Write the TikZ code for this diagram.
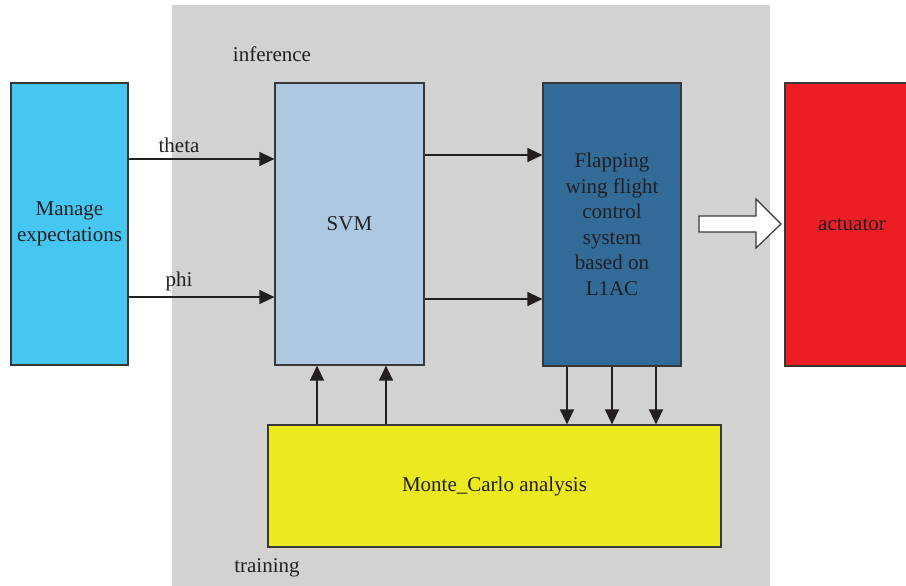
\documentclass[tikz,border=0pt]{standalone}
\usepackage{fontspec}
\setmainfont{Liberation Serif}
\usetikzlibrary{arrows.meta}
\definecolor{bggray}{RGB}{210,210,209}
\definecolor{mngcol}{RGB}{70,199,241}
\definecolor{svmcol}{RGB}{173,201,225}
\definecolor{flapcol}{RGB}{50,107,152}
\definecolor{actcol}{RGB}{236,29,37}
\definecolor{mccol}{RGB}{235,233,32}
\definecolor{edgecol}{RGB}{55,55,55}
\definecolor{txtcol}{RGB}{35,31,32}
\tikzset{
  blk/.style={draw=edgecol, line width=1.2pt, inner sep=0pt, align=center, text=txtcol},
  arr/.style={draw=txtcol, line width=1.3pt, -{Triangle[length=15pt,width=14pt]}},
  lbl/.style={text=txtcol, inner sep=0pt, anchor=base},
  hollow/.style={draw=edgecol, line width=1.2pt, fill=white}
}
\begin{document}
\begin{tikzpicture}[x=1pt,y=-1pt,font=\fontsize{21}{25.5}\selectfont]
\useasboundingbox (0,0) rectangle (906,586);
\fill[bggray] (172,5) rectangle (770,586);

\node[blk, fill=mngcol, minimum width=117pt, minimum height=282pt] (mng) at (69.5,224) {Manage\\expectations};
\node[blk, fill=svmcol, minimum width=149pt, minimum height=282pt] (svm) at (349.5,224) {SVM};
\node[blk, fill=flapcol, minimum width=138pt, minimum height=283pt] (flap) at (612,224.5) {Flapping\\wing flight\\control\\system\\based on\\L1AC};
\node[blk, fill=actcol, minimum width=134pt, minimum height=283pt] (act) at (852,224.5) {actuator};
\node[blk, fill=mccol, minimum width=453pt, minimum height=122pt] (mc) at (494.5,486) {Monte\_Carlo analysis};

\node[lbl] (inf) at (272,62) {inference};
\node[lbl] (trn) at (267,572) {training};
\node[lbl] (theta) at (179,152) {theta};
\node[lbl] (phi) at (179,286) {phi};

\draw[arr] (mng.east |- 0,159) -- (svm.west |- 0,159);
\draw[arr] (mng.east |- 0,297) -- (svm.west |- 0,297);

\draw[arr] (svm.east |- 0,155) -- (flap.west |- 0,155);
\draw[arr] (svm.east |- 0,299) -- (flap.west |- 0,299);

\draw[arr] (mc.north -| 317,0) -- (svm.south -| 317,0);
\draw[arr] (mc.north -| 386,0) -- (svm.south -| 386,0);

\draw[arr] (flap.south -| 567,0) -- (mc.north -| 567,0);
\draw[arr] (flap.south -| 612,0) -- (mc.north -| 612,0);
\draw[arr] (flap.south -| 656,0) -- (mc.north -| 656,0);

\draw[hollow] (699,216) -- (756,216) -- (756,199) -- (781,224) -- (756,248) -- (756,232) -- (699,232) -- cycle;
\end{tikzpicture}
\end{document}
